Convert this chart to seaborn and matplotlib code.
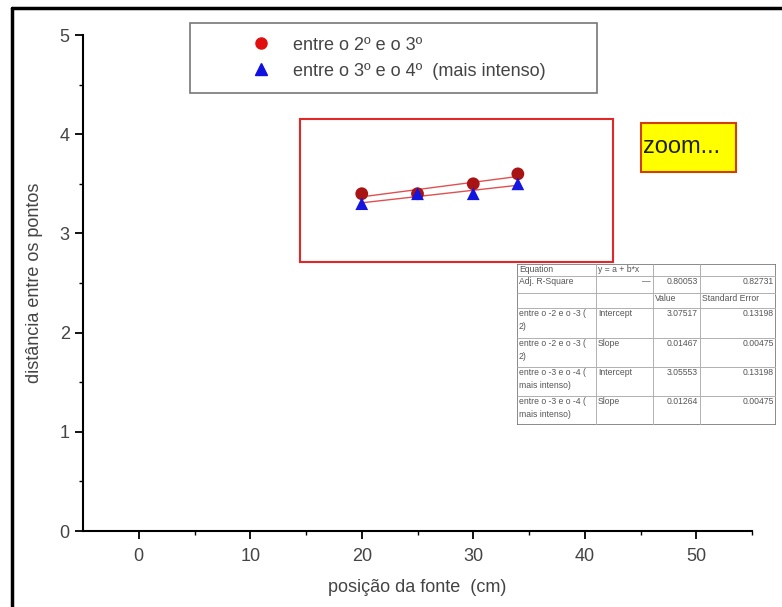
import numpy as np
import pandas as pd
import seaborn as sns
import matplotlib.pyplot as plt
from matplotlib.patches import Rectangle
from matplotlib.lines import Line2D

# measured source positions (cm) and distances between the spots
positions = [20, 25, 30, 34]
dist_2_3 = [3.4, 3.4, 3.5, 3.6]
dist_3_4 = [3.3, 3.4, 3.4, 3.5]
series_labels = ["entre o 2º e o 3º", "entre o 3º e o 4º  (mais intenso)"]
fit_row_labels = ["entre o -2 e o -3 (\n2)", "entre o -3 e o -4 (\nmais intenso)"]
std_errors = [["0.13198", "0.00475"], ["0.13198", "0.00475"]]
x_ticks = [0, 10, 20, 30, 40, 50]
y_ticks = [0, 1, 2, 3, 4, 5]

sns.set_theme(style="ticks")
plt.rcParams["font.family"] = ["Liberation Sans", "DejaVu Sans"]

W, H = 782, 607
fig = plt.figure(figsize=(W / 100, H / 100), dpi=100)


def fx(px):
    return px / W


def fy(py):
    return 1 - py / H


ax = fig.add_axes([fx(83), fy(531), fx(752) - fx(83), fy(35) - fy(531)])

df = pd.DataFrame({
    "pos": positions * 2,
    "dist": dist_2_3 + dist_3_4,
    "serie": [series_labels[0]] * 4 + [series_labels[1]] * 4,
})

# linear fits y = a + b*x
fits = []
for ys in (dist_2_3, dist_3_4):
    b, a = np.polyfit(positions, ys, 1)
    pred = a + b * np.array(positions)
    ss_res = np.sum((np.array(ys) - pred) ** 2)
    ss_tot = np.sum((np.array(ys) - np.mean(ys)) ** 2)
    r2 = 1 - ss_res / ss_tot
    n = len(ys)
    adj = 1 - (1 - r2) * (n - 1) / (n - 2)
    fits.append((a, b, adj))

fit_df = pd.DataFrame({
    "pos": positions * 2,
    "fit": [fits[0][0] + fits[0][1] * p for p in positions]
    + [fits[1][0] + fits[1][1] * p for p in positions],
    "serie": df["serie"],
})

sns.lineplot(data=fit_df, x="pos", y="fit", hue="serie",
             palette=["#e05050", "#e05050"], lw=1.0, legend=False, ax=ax)
sns.scatterplot(data=df, x="pos", y="dist", hue="serie", style="serie",
                palette={series_labels[0]: "#a81414", series_labels[1]: "#1515e0"},
                markers={series_labels[0]: "o", series_labels[1]: "^"},
                s=85, edgecolor="none", legend=False, ax=ax, zorder=3)

ax.set_xlim(-5, 55)
ax.set_ylim(0, 5)
ax.set_xticks(x_ticks)
ax.set_yticks(y_ticks)
ax.set_xticks(np.arange(5, 56, 10), minor=True)
ax.set_yticks(np.arange(0.5, 5, 1), minor=True)
ax.set_xlabel("posição da fonte  (cm)", fontsize=13, color="#444444", labelpad=10)
ax.set_ylabel("distância entre os pontos", fontsize=13, color="#444444", labelpad=12)
ax.tick_params(axis="both", which="major", direction="out", length=6, width=1.3,
               labelsize=13, labelcolor="#444444", color="black")
ax.tick_params(axis="both", which="minor", direction="out", length=3, width=1.0,
               color="black")
ax.tick_params(axis="x", pad=6)
sns.despine(ax=ax)
for side in ("left", "bottom"):
    ax.spines[side].set_linewidth(1.5)
    ax.spines[side].set_color("black")

# highlighted region and the zoom tag
ax.add_patch(Rectangle((14.5, 2.71), 28.0, 1.44, fill=False,
                       edgecolor="#e02828", lw=1.5, zorder=2))
ax.add_patch(Rectangle((45.0, 3.62), 8.6, 0.49, facecolor="#ffff00",
                       edgecolor="#d04000", lw=1.5, zorder=2))
ax.text(45.2, 3.875, "zoom...", fontsize=17, color="#202000", va="center",
        ha="left", zorder=3)

# legend
handles = [
    Line2D([], [], marker="o", ls="none", color="#e01010", markersize=8),
    Line2D([], [], marker="^", ls="none", color="#1010e0", markersize=9),
]
leg = ax.legend(handles, series_labels, loc="upper left",
                bbox_to_anchor=(fx(190), fy(23), fx(597) - fx(190), 0),
                bbox_transform=fig.transFigure, mode="expand",
                frameon=True, fancybox=False, fontsize=13,
                handlelength=6.4, handletextpad=-1.45, borderpad=0.75,
                labelspacing=0.5, borderaxespad=0)
leg.get_frame().set_edgecolor("#555555")
leg.get_frame().set_linewidth(1.2)
for t in leg.get_texts():
    t.set_color("#444444")

# fit results table
rows = [264, 276, 293, 308, 338, 367, 396, 425]
cols = [517, 596, 653, 700, 776]
tax = fig.add_axes([fx(cols[0]), fy(rows[-1]), fx(cols[-1]) - fx(cols[0]),
                    fy(rows[0]) - fy(rows[-1])])
tax.set_xlim(cols[0], cols[-1])
tax.set_ylim(rows[-1], rows[0])
tax.axis("off")
tax.add_patch(Rectangle((cols[0], rows[0]), cols[-1] - cols[0], rows[-1] - rows[0],
                        facecolor="white", edgecolor="#777777", lw=1.2))
tax.hlines(rows[1:-1], cols[0], cols[-1], color="#b0b0b0", lw=0.7)
tax.vlines(cols[1:-1], rows[0], rows[-1], color="#b0b0b0", lw=0.7)

tfs = 6.2
tc = "#555555"


def cell(r, c, s, ha="left"):
    x = cols[c] + 2 if ha == "left" else cols[c + 1] - 2
    tax.text(x, rows[r] + 1.5, s, fontsize=tfs, color=tc, ha=ha, va="top",
             linespacing=1.5)


cell(0, 0, "Equation")
cell(0, 1, "y = a + b*x")
cell(1, 0, "Adj. R-Square")
cell(1, 1, "—", ha="right")
cell(1, 2, f"{fits[0][2]:.5f}", ha="right")
cell(1, 3, f"{fits[1][2]:.5f}", ha="right")
cell(2, 2, "Value")
cell(2, 3, "Standard Error")
r = 3
for i in range(2):
    for j, name in enumerate(["Intercept", "Slope"]):
        cell(r, 0, fit_row_labels[i])
        cell(r, 1, name)
        cell(r, 2, f"{fits[i][j]:.5f}", ha="right")
        cell(r, 3, std_errors[i][j], ha="right")
        r += 1

# page frame along the top and left edges
fig.add_artist(Line2D([fx(12), 1], [fy(8), fy(8)], color="black", lw=2.5))
fig.add_artist(Line2D([fx(12), fx(12)], [fy(8), 0], color="black", lw=2.5))

fig.savefig("out.png", dpi=100)
